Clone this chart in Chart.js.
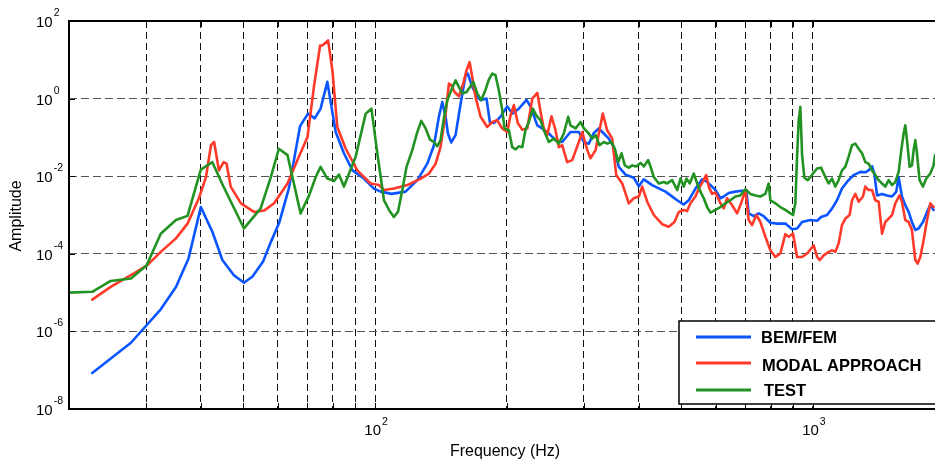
<!DOCTYPE html>
<html>
<head>
<meta charset="utf-8">
<title>Amplitude vs frequency</title>
<script src="https://cdn.jsdelivr.net/npm/chart.js@4.4.0/dist/chart.umd.min.js"></script>
<style>
  html, body { margin: 0; padding: 0; background: #fff; }
  canvas { display: block; }
</style>
</head>
<body>
<canvas id="ampChart" width="935" height="461"></canvas>
<script>
// ---- data (Hz, amplitude) ----
const bemFreq = [22.6, 27.7, 32.4, 35.1, 37.5, 40.0, 42.5, 44.8, 47.6, 50.2,
  52.5, 55.5, 57.8, 60.4, 63.6, 67.4, 70.3, 72.8, 75.1, 77.8,
  81.3, 84.9, 88.8, 94.3, 99.4, 103, 109, 117.4, 124.9, 131.6,
  136.3, 139.9, 142.4, 144.9, 146.7, 149.3, 152.7, 156.8, 161, 162.9,
  166.7, 171.2, 174.2, 179.7, 182.9, 186.8, 193.4, 200.4, 205.7, 213,
  221.8, 226.5, 234.7, 240.9, 249.4, 258.3, 267.5, 279.5, 292, 299.8,
  307.7, 315.9, 324.3, 333, 341.8, 351, 360.3, 373.2, 389.8, 400.3,
  410.9, 429.4, 460.5, 473, 489.7, 507, 520.5, 539.2, 558.4, 573.3,
  588.5, 598.8, 614.8, 625.5, 642.1, 665.2, 689, 704.7, 713.3, 732.3,
  751.8, 771.8, 799.4, 828.1, 865, 896, 919.9, 944.5, 986.5, 1022,
  1044, 1077, 1106, 1135, 1165, 1196, 1238, 1283, 1317, 1340,
  1365, 1381, 1401, 1438, 1476, 1516, 1550, 1569, 1597, 1625,
  1654, 1683, 1713, 1743, 1784, 1822, 1854, 1886];
const bemAmp = [8.5e-8, 5.1e-7, 3.7e-6, 1.4e-5, 7.6e-5, 1.6e-3, 3.7e-4, 6.9e-5, 2.8e-5, 1.8e-5,
  2.6e-5, 6.3e-5, 2.0e-4, 6.3e-4, 5.0e-3, 0.195, 0.41, 0.31, 0.55, 2.7,
  0.138, 3.9e-2, 1.41e-2, 8.7e-3, 4.8e-3, 4.0e-3, 3.5e-3, 4.0e-3, 7.9e-3, 2.1e-2,
  6.3e-2, 0.34, 0.82, 0.34, 0.126, 7.4e-2, 0.115, 0.74, 3.98, 4.4,
  2.0, 1.1, 0.91, 1.0, 0.25, 0.234, 0.34, 0.63, 0.41, 0.55,
  0.93, 0.62, 0.204, 0.17, 0.126, 8.5e-2, 7.6e-2, 0.138, 0.138, 7.6e-2,
  6.9e-2, 0.13, 0.17, 0.126, 9.3e-2, 5.6e-2, 1.74e-2, 1.1e-2, 9.1e-3, 5.5e-3,
  8.3e-3, 5.9e-3, 4.0e-3, 3.2e-3, 2.4e-3, 1.86e-3, 2.4e-3, 4.8e-3, 8.3e-3, 7.1e-3,
  5.4e-3, 4.4e-3, 2.7e-3, 3.0e-3, 3.7e-3, 4.0e-3, 4.2e-3, 4.2e-3, 1.1e-3, 9.3e-4,
  1.1e-3, 9.3e-4, 6.3e-4, 6.0e-4, 6.0e-4, 4.3e-4, 4.5e-4, 6.6e-4, 7.4e-4, 7.1e-4,
  8.9e-4, 1.0e-3, 1.48e-3, 2.4e-3, 4.8e-3, 7.1e-3, 1.07e-2, 1.29e-2, 1.26e-2, 1.41e-2,
  1.8e-2, 1.17e-2, 3.2e-3, 3.5e-3, 3.2e-3, 3.0e-3, 4.0e-3, 9.5e-3, 3.0e-3, 1.8e-3,
  1.2e-3, 6.6e-4, 4.1e-4, 4.5e-4, 6.6e-4, 1.2e-3, 1.8e-3, 1.35e-3];

const modalFreq = [22.6, 24.9, 28.2, 30.2, 32.4, 35.1, 37.3, 39.6, 41.1, 42.2,
  42.9, 44.0, 45.1, 45.8, 46.8, 49.4, 52.9, 55.8, 58.8, 63.1,
  66.5, 70.1, 72.5, 74.9, 75.8, 76.7, 78.1, 79.9, 82.0, 85.7,
  91.1, 97.7, 102.1, 104.8, 110.4, 118.5, 127.1, 132.8, 137.5, 141.1,
  144.9, 147.5, 149.3, 151.9, 155.4, 159, 161.8, 164.4, 166.7, 169.6,
  174.2, 180.4, 185.2, 190.1, 195.2, 200.4, 203.9, 207.5, 211.9, 216.9,
  222.6, 228.6, 234.7, 238.8, 242.9, 247.3, 252.9, 258.3, 262.8, 267.5,
  274.6, 282, 292, 297.3, 305.2, 310.5, 318.8, 331.2, 338.9, 348,
  355.4, 366.8, 379.7, 389.8, 400.3, 407.4, 418.3, 433.1, 452.5, 468.5,
  482.8, 493.9, 507, 516.1, 525.1, 539.2, 548.6, 563.2, 570.3, 578.1,
  588.5, 598.8, 614.8, 625.5, 636.8, 653.8, 671.1, 685.4, 701, 713.3,
  726.1, 742.7, 758.6, 778.7, 799.4, 820.7, 842.5, 865, 880.2, 900.8,
  919.9, 944.5, 969.4, 983, 1004, 1022, 1036, 1058, 1086, 1106,
  1125, 1145, 1165, 1186, 1213, 1228, 1250, 1272, 1301, 1317,
  1340, 1365, 1388, 1413, 1438, 1463, 1489, 1516, 1542, 1577,
  1597, 1625, 1654, 1683, 1713, 1734, 1759, 1789, 1822, 1854,
  1886];
const modalAmp = [6.6e-6, 1.41e-5, 3.2e-5, 5.1e-5, 1.12e-4, 2.5e-4, 6.0e-4, 2.7e-3, 9.5e-3, 6.3e-2,
  7.6e-2, 1.41e-2, 2.3e-2, 2.1e-2, 5.4e-3, 2.0e-3, 1.2e-3, 1.3e-3, 2.0e-3, 6.5e-3,
  2.6e-2, 0.102, 2.0, 23.4, 23.4, 26.3, 31.6, 5.4, 0.186, 5.1e-2,
  1.41e-2, 6.5e-3, 5.9e-3, 4.4e-3, 4.8e-3, 5.9e-3, 8.7e-3, 1.17e-2, 2.1e-2, 5.6e-2,
  0.41, 2.45, 2.2, 1.48, 1.15, 2.45, 5.4, 8.7, 3.6, 1.1,
  0.34, 0.186, 0.25, 0.275, 0.17, 0.138, 0.37, 0.68, 0.23, 0.158,
  0.17, 1.0, 1.4, 0.45, 0.17, 0.115, 0.35, 0.153, 5.6e-2, 6.3e-2,
  2.3e-2, 2.6e-2, 7.6e-2, 0.138, 4.7e-2, 2.9e-2, 4.7e-2, 0.41, 0.153, 9.3e-2,
  1.07e-2, 6.5e-3, 2.0e-3, 2.7e-3, 3.0e-3, 5.4e-3, 2.2e-3, 1.0e-3, 5.8e-4, 5.0e-4,
  6.6e-4, 1.2e-3, 1.35e-3, 1.26e-3, 2.0e-3, 3.0e-3, 4.8e-3, 7.9e-3, 1.07e-2, 5.4e-3,
  3.5e-3, 3.8e-3, 2.0e-3, 1.48e-3, 2.7e-3, 1.78e-3, 1.1e-3, 2.0e-3, 4.4e-3, 7.4e-4,
  5.5e-4, 1.0e-3, 6.6e-4, 2.75e-4, 1.23e-4, 8.3e-5, 1.02e-4, 3.2e-4, 2.75e-4, 3.3e-4,
  8.3e-5, 8.3e-5, 1.02e-4, 1.23e-4, 1.66e-4, 8.3e-5, 6.9e-5, 9.1e-5, 1.12e-4, 1.23e-4,
  1.12e-4, 1.86e-4, 5.5e-4, 8.1e-4, 1.0e-3, 2.4e-3, 3.5e-3, 2.2e-3, 3.0e-3, 5.4e-3,
  4.4e-3, 4.4e-3, 2.4e-3, 2.2e-3, 3.3e-4, 6.6e-4, 8.1e-4, 1.0e-3, 2.0e-3, 3.2e-3,
  2.2e-3, 7.4e-4, 6.6e-4, 4.1e-4, 6.9e-5, 5.6e-5, 8.3e-5, 2.2e-4, 7.4e-4, 2.0e-3,
  1.6e-3];

const testFreq = [20, 22.6, 24.9, 27.7, 30.1, 32.4, 35.1, 37.3, 40.0, 42.5,
  45.0, 50.2, 54.8, 57.8, 60.3, 63.1, 67.6, 70.7, 73.2, 75.1,
  77.8, 80.6, 82.7, 84.9, 90.3, 95.2, 98.1, 101.2, 104.8, 107.6,
  110.4, 112.8, 115.4, 118, 121.6, 124.9, 127.5, 130.5, 133.5, 136.3,
  138.7, 141.1, 143.6, 146.2, 149.3, 152.7, 155.4, 158.2, 161.8, 164.7,
  167.6, 171.2, 174.8, 178.8, 181.9, 185.2, 188.4, 191.7, 195.2, 197.6,
  202.1, 205.7, 209.4, 213, 216.9, 220.7, 224.5, 229.3, 233.4, 238.8,
  242.9, 249.4, 256, 262.8, 269.8, 276.1, 279.5, 287, 294.6, 299.8,
  307.7, 313.3, 318.8, 325.5, 333, 338.9, 346.7, 352.8, 359.2, 365.5,
  371.9, 379.7, 386.6, 394.8, 403.9, 410.9, 420.5, 425.6, 433.1, 444.6,
  456.4, 464.6, 477, 489.7, 498.3, 507, 514.2, 523.2, 534.4, 544,
  553.5, 563.2, 573.3, 583.4, 598.8, 614.8, 631.1, 647.9, 665.2, 682.8,
  701, 719.6, 738.9, 758.6, 778.7, 792.3, 799.4, 820.7, 842.5, 865,
  888, 900.8, 911.7, 919.9, 927.8, 935.9, 944.5, 956, 973, 986.5,
  1000.5, 1021.8, 1043.5, 1067.3, 1086, 1105.5, 1124.8, 1144.6, 1165.2, 1185.6,
  1206.5, 1228.2, 1249.8, 1271.7, 1294.6, 1317.3, 1340.3, 1364.6, 1388.4, 1412.6,
  1438.2, 1463.2, 1489, 1515.8, 1542.5, 1569.4, 1591.6, 1611, 1625.5, 1639.8,
  1662.6, 1683.4, 1697.8, 1713, 1728.2, 1752, 1783.7, 1815, 1853.6, 1886,
  1900];
const testAmp = [1.0e-5, 1.05e-5, 2.0e-5, 2.3e-5, 5.1e-5, 3.3e-4, 7.4e-4, 9.5e-4, 1.48e-2, 2.3e-2,
  5.6e-3, 4.5e-4, 1.48e-3, 9.5e-3, 5.1e-2, 3.5e-2, 1.1e-3, 3.2e-3, 9.5e-3, 1.74e-2,
  8.7e-3, 7.6e-3, 1.1e-2, 5.4e-3, 3.2e-2, 0.41, 0.55, 3.9e-2, 2.4e-3, 1.35e-3,
  8.9e-4, 1.2e-3, 4.4e-3, 1.74e-2, 4.7e-2, 0.138, 0.266, 0.17, 8.7e-2, 7.6e-2,
  5.9e-2, 8.5e-2, 0.31, 0.91, 1.64, 2.95, 2.0, 1.35, 1.48, 2.0,
  2.7, 1.35, 0.91, 1.7, 3.1, 4.4, 4.0, 1.64, 0.5, 0.17,
  0.153, 5.6e-2, 4.9e-2, 5.9e-2, 5.6e-2, 0.162, 0.25, 0.55, 0.37, 0.275,
  0.153, 7.6e-2, 9.3e-2, 6.9e-2, 0.126, 0.34, 0.204, 0.17, 0.25, 0.17,
  0.126, 9.3e-2, 0.115, 6.3e-2, 7.6e-2, 6.9e-2, 7.6e-2, 5.1e-2, 2.3e-2, 3.9e-2,
  1.9e-2, 1.66e-2, 1.9e-2, 1.78e-2, 2.2e-2, 1.78e-2, 2.6e-2, 1.78e-2, 9.5e-3, 6.5e-3,
  7.1e-3, 6.5e-3, 7.9e-3, 4.4e-3, 8.7e-3, 5.4e-3, 8.7e-3, 6.5e-3, 1.17e-2, 6.5e-3,
  4.0e-3, 2.7e-3, 1.6e-3, 1.15e-3, 1.35e-3, 1.6e-3, 2.0e-3, 2.4e-3, 3.0e-3, 3.2e-3,
  4.6e-3, 3.5e-3, 3.2e-3, 3.0e-3, 3.5e-3, 6.5e-3, 2.4e-3, 2.0e-3, 1.6e-3, 1.35e-3,
  1.1e-3, 1.0e-3, 2.0e-3, 3.2e-2, 0.275, 0.61, 3.5e-2, 9.1e-3, 7.9e-3, 9.5e-3,
  1.17e-2, 1.58e-2, 1.66e-2, 9.5e-3, 6.5e-3, 8.7e-3, 5.4e-3, 7.9e-3, 1.41e-2, 1.74e-2,
  3.2e-2, 6.3e-2, 6.9e-2, 5.1e-2, 3.9e-2, 2.3e-2, 2.1e-2, 1.41e-2, 1.07e-2, 7.9e-3,
  6.5e-3, 5.4e-3, 7.9e-3, 5.9e-3, 7.1e-3, 1.29e-2, 4.7e-2, 0.126, 0.204, 8.5e-2,
  1.74e-2, 1.9e-2, 4.7e-2, 8.5e-2, 3.9e-2, 7.9e-3, 5.4e-3, 8.7e-3, 1.17e-2, 1.9e-2,
  3.5e-2];

const seriesNames = ["BEM/FEM", "MODAL APPROACH", "TEST"];

// axis ticks (grid lines) and the labelled ones
const xGridTicks = [30, 40, 50, 60, 70, 80, 90, 100, 200, 300, 400, 500, 600, 700, 800, 900, 1000];
const xLabelTicks = [100, 1000];
const yTicks = [1e-8, 1e-6, 1e-4, 1e-2, 1, 100];

const FONT = '"Liberation Sans", Arial, Helvetica, sans-serif';
const COLORS = ["#0a55ff", "#ff3a2a", "#229322"];

function toPoints(xs, ys) {
    return xs.map((x, i) => ({ x: x, y: ys[i] }));
}

// draws "10" with a raised exponent
function powerLabel(ctx, x, baseY, exp, raise, centered) {
    ctx.font = "15px " + FONT;
    const wBase = ctx.measureText("10").width;
    ctx.font = "10.5px " + FONT;
    const wExp = ctx.measureText(exp).width;
    const left = centered ? x - (wBase + 1 + wExp) / 2 + 1 : x;
    ctx.font = "15px " + FONT;
    ctx.fillText("10", left, baseY);
    ctx.font = "10.5px " + FONT;
    ctx.fillText(exp, left + wBase + 1, baseY - raise);
}

// frame, inner ticks, tick labels, titles and legend (MATLAB look)
const matlabFrame = {
    id: "matlabFrame",
    afterDraw(chart) {
        const { ctx, chartArea: a, scales } = chart;
        const L = Math.round(a.left), T = Math.round(a.top), B = Math.round(a.bottom), R = a.right + 2;

        ctx.save();
        ctx.strokeStyle = "#000";

        // inner tick marks
        ctx.lineWidth = 1;
        ctx.beginPath();
        xGridTicks.forEach((v) => {
            const px = Math.round(scales.x.getPixelForValue(v)) + 0.5;
            ctx.moveTo(px, B); ctx.lineTo(px, B - 6);
            ctx.moveTo(px, T); ctx.lineTo(px, T + 6);
        });
        yTicks.forEach((v) => {
            const py = Math.round(scales.y.getPixelForValue(v)) + 0.5;
            ctx.moveTo(L, py); ctx.lineTo(L + 6, py);
        });
        ctx.stroke();

        // axes box
        ctx.lineWidth = 2;
        ctx.beginPath();
        ctx.moveTo(R, T); ctx.lineTo(L, T); ctx.lineTo(L, B); ctx.lineTo(R, B);
        ctx.stroke();

        // tick labels
        ctx.fillStyle = "#000";
        ctx.textAlign = "left";
        ctx.textBaseline = "alphabetic";
        yTicks.forEach((v) => {
            const py = scales.y.getPixelForValue(v);
            powerLabel(ctx, 36, py + 6, String(Math.round(Math.log10(v))), 11, false);
        });
        xLabelTicks.forEach((v) => {
            const px = scales.x.getPixelForValue(v);
            powerLabel(ctx, px, 435, String(Math.round(Math.log10(v))), 10, true);
        });

        // axis titles
        ctx.font = "16px " + FONT;
        ctx.textAlign = "center";
        ctx.fillText("Frequency (Hz)", 505, 456);
        ctx.save();
        ctx.translate(17, (a.top + a.bottom) / 2 + 1);
        ctx.rotate(-Math.PI / 2);
        ctx.textBaseline = "middle";
        ctx.fillText("Amplitude", 0, 0);
        ctx.restore();

        // legend box
        ctx.fillStyle = "#fff";
        ctx.fillRect(679, 321, 260, 83);
        ctx.lineWidth = 1.5;
        ctx.strokeRect(679, 321, 260, 83);

        const rows = [
            { lineY: 337, textX: 761, textY: 343 },
            { lineY: 363, textX: 762, textY: 371 },
            { lineY: 390, textX: 764, textY: 396 },
        ];
        ctx.textAlign = "left";
        ctx.font = "bold 16.5px " + FONT;
        chart.data.datasets.forEach((ds, i) => {
            const r = rows[i];
            ctx.strokeStyle = ds.borderColor;
            ctx.lineWidth = 3;
            ctx.beginPath();
            ctx.moveTo(696, r.lineY); ctx.lineTo(751, r.lineY);
            ctx.stroke();
            ctx.fillStyle = "#000";
            ctx.fillText(ds.label, r.textX, r.textY);
        });

        ctx.restore();
    },
};

new Chart(document.getElementById("ampChart"), {
    type: "line",
    data: {
        datasets: [
            { label: seriesNames[0], data: toPoints(bemFreq, bemAmp), borderColor: COLORS[0], order: 3 },
            { label: seriesNames[1], data: toPoints(modalFreq, modalAmp), borderColor: COLORS[1], order: 2 },
            { label: seriesNames[2], data: toPoints(testFreq, testAmp), borderColor: COLORS[2], order: 1 },
        ],
    },
    options: {
        responsive: false,
        devicePixelRatio: 1,
        animation: false,
        events: [],
        elements: {
            point: { radius: 0 },
            line: { borderWidth: 2.6, tension: 0, borderJoinStyle: "round", borderCapStyle: "round", fill: false },
        },
        layout: { padding: { top: 21, left: 0, right: 0, bottom: 0 } },
        plugins: { legend: { display: false }, tooltip: { enabled: false } },
        scales: {
            x: {
                type: "logarithmic",
                min: 20,
                max: 1900,
                afterBuildTicks: (s) => { s.ticks = xGridTicks.map((v) => ({ value: v })); },
                afterFit: (s) => { s.height = 52; },
                ticks: { display: false, autoSkip: false },
                grid: { color: "#111", lineWidth: 1, drawTicks: false },
                border: { display: false, dash: [7, 4] },
            },
            y: {
                type: "logarithmic",
                min: 1e-8,
                max: 100,
                afterBuildTicks: (s) => { s.ticks = yTicks.map((v) => ({ value: v })); },
                afterFit: (s) => { s.width = 69; },
                ticks: { display: false, autoSkip: false },
                grid: { color: "#555", lineWidth: 1, drawTicks: false },
                border: { display: false, dash: [8, 4] },
            },
        },
    },
    plugins: [matlabFrame],
});
</script>
</body>
</html>
